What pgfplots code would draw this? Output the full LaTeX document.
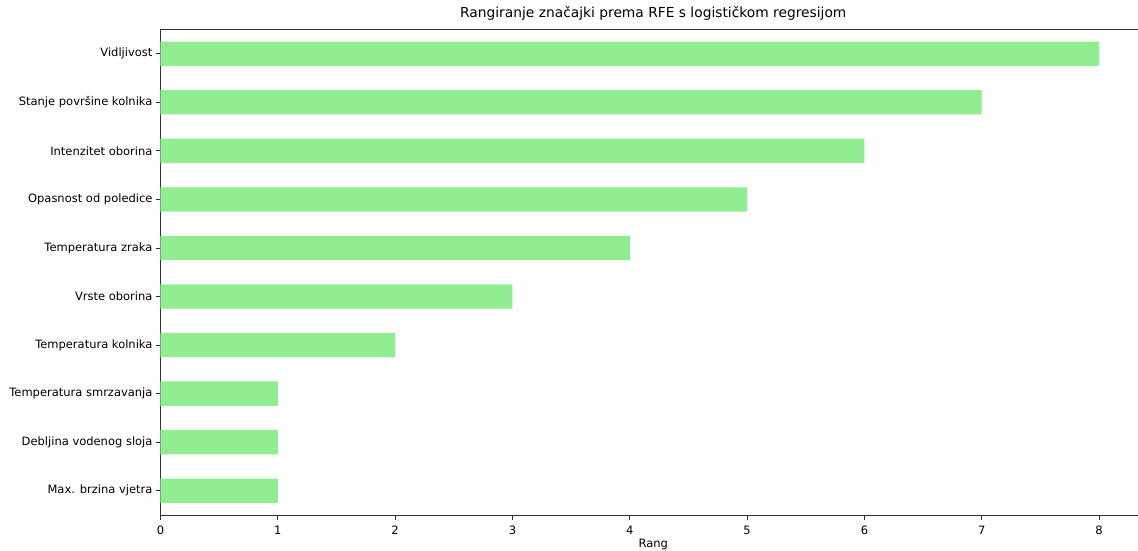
\documentclass[border=0pt]{standalone}
\usepackage{pgfplots}
\pgfplotsset{compat=1.18}
\usepackage{fontspec}
\setmainfont{DejaVu Sans}
\definecolor{lightgreen}{HTML}{90EE90}
\definecolor{spine}{HTML}{333333}

\begin{document}
\begin{tikzpicture}
\begin{axis}[
    at={(0,0)}, anchor=south west,
    scale only axis,
    width=985.5pt, height=485.5pt,
    xbar, bar width=0.5,
    xmin=0, xmax=8.4,
    ymin=-0.5, ymax=9.5,
    axis x line*=box, axis y line*=left,
    y axis line style={-},
    xtick={0,1,...,8},
    ytick={0,...,9},
    yticklabels={Max. brzina vjetra, Debljina vodenog sloja, Temperatura smrzavanja,
        Temperatura kolnika, Vrste oborina, Temperatura zraka, Opasnost od poledice,
        Intenzitet oborina, Stanje površine kolnika, Vidljivost},
    tick align=outside,
    major tick length=4.5pt,
    tick style={spine, line width=0.9pt},
    axis line style={spine, line width=0.9pt},
    xtick pos=bottom, ytick pos=left,
    ticklabel style={font=\fontsize{11.5}{13}\selectfont},
    x tick label style={yshift=-3pt},
    /pgf/number format/assume math mode=true,
    xlabel={Rang},
    xlabel style={font=\fontsize{11.5}{13}\selectfont, yshift=2.5pt},
    title={Rangiranje značajki prema RFE s logističkom regresijom},
    title style={font=\fontsize{13.8}{16}\selectfont, yshift=0pt},
]
\addplot[fill=lightgreen, draw=none] coordinates {
    (1,0) (1,1) (1,2) (2,3) (3,4) (4,5) (5,6) (6,7) (7,8) (8,9)
};
\end{axis}
\pgfresetboundingbox
\useasboundingbox (-160.5pt,-35pt) rectangle (977.5pt,515pt);
\end{tikzpicture}
\end{document}
